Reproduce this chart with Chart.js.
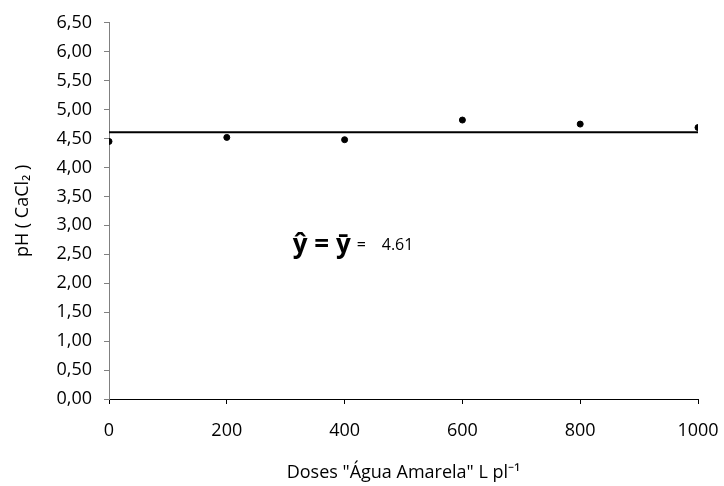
<!DOCTYPE html>
<html>
<head>
<meta charset="utf-8">
<script src="https://cdn.jsdelivr.net/npm/chart.js@4.4.1/dist/chart.umd.min.js"></script>
<style>
  html, body { margin: 0; padding: 0; background: #fff; }
  #wrap { width: 724px; height: 486px; }
</style>
</head>
<body>
<div id="wrap"><canvas id="phChart"></canvas></div>
<script>
// pH values
const doses = [0, 200, 400, 600, 800, 1000];
const phValues = [4.45, 4.52, 4.48, 4.82, 4.75, 4.69];
const meanPh = 4.61;
const meanX = [0, 1000];
const xTicks = [0, 200, 400, 600, 800, 1000];

// where the equation label sits, in data units
const eqAnchor = { x: 312, y: 2.65 };

const FONT = "'Open Sans', sans-serif";

const equationLabel = {
  id: "equationLabel",
  afterDatasetsDraw(chart) {
    const c = chart.ctx;
    const x = chart.scales.x.getPixelForValue(eqAnchor.x);
    const y = chart.scales.y.getPixelForValue(eqAnchor.y);
    c.save();
    c.fillStyle = "#000";
    c.textBaseline = "middle";
    c.font = "bold 26px " + FONT;
    c.fillText("ŷ = ȳ", x, y);
    c.font = "16px " + FONT;
    c.fillText("=", x + 64, y);
    c.fillText(meanPh.toFixed(2), x + 89, y);
    c.restore();
  }
};

new Chart(document.getElementById("phChart"), {
  type: "scatter",
  data: {
    datasets: [
      {
        label: "pH",
        data: doses.map((d, i) => ({ x: d, y: phValues[i] })),
        pointStyle: "circle",
        pointRadius: 3,
        backgroundColor: "#000",
        borderColor: "#000",
        showLine: false
      },
      {
        label: "média",
        data: meanX.map(d => ({ x: d, y: meanPh })),
        showLine: true,
        borderColor: "#000",
        borderWidth: 2,
        pointRadius: 0
      }
    ]
  },
  options: {
    responsive: true,
    maintainAspectRatio: false,
    animation: false,
    layout: { padding: { top: 12, right: 26, bottom: 0, left: 0 } },
    plugins: {
      legend: { display: false },
      tooltip: { enabled: false }
    },
    scales: {
      x: {
        type: "linear",
        min: 0,
        max: 1000,
        afterBuildTicks: axis => { axis.ticks = xTicks.map(v => ({ value: v })); },
        afterFit: axis => {
          axis.height = 87;
          axis.paddingLeft = 0;
          axis.paddingRight = 0;
        },
        border: { color: "#000", width: 1 },
        grid: { drawOnChartArea: false, tickLength: 5, color: "#000" },
        ticks: {
          padding: 16,
          color: "#000",
          font: { family: FONT, size: 18 },
          maxRotation: 0,
          callback: v => String(v)
        },
        title: {
          display: true,
          text: "Doses \"Água Amarela\" L pl⁻¹",
          color: "#000",
          font: { family: FONT, size: 18 },
          padding: { top: 0, bottom: 2 }
        }
      },
      y: {
        min: 0,
        max: 6.5,
        afterFit: axis => { axis.width = 109; },
        border: { color: "#808080", width: 1 },
        grid: { drawOnChartArea: false, tickLength: 5, color: "#808080" },
        ticks: {
          stepSize: 0.5,
          padding: 12,
          color: "#000",
          font: { family: FONT, size: 18 },
          callback: v => v.toFixed(2).replace(".", ",")
        },
        title: {
          display: true,
          text: "pH ( CaCl₂ )",
          color: "#000",
          font: { family: FONT, size: 18 },
          padding: { top: 12, bottom: 0 }
        }
      }
    }
  },
  plugins: [equationLabel]
});
</script>
</body>
</html>
